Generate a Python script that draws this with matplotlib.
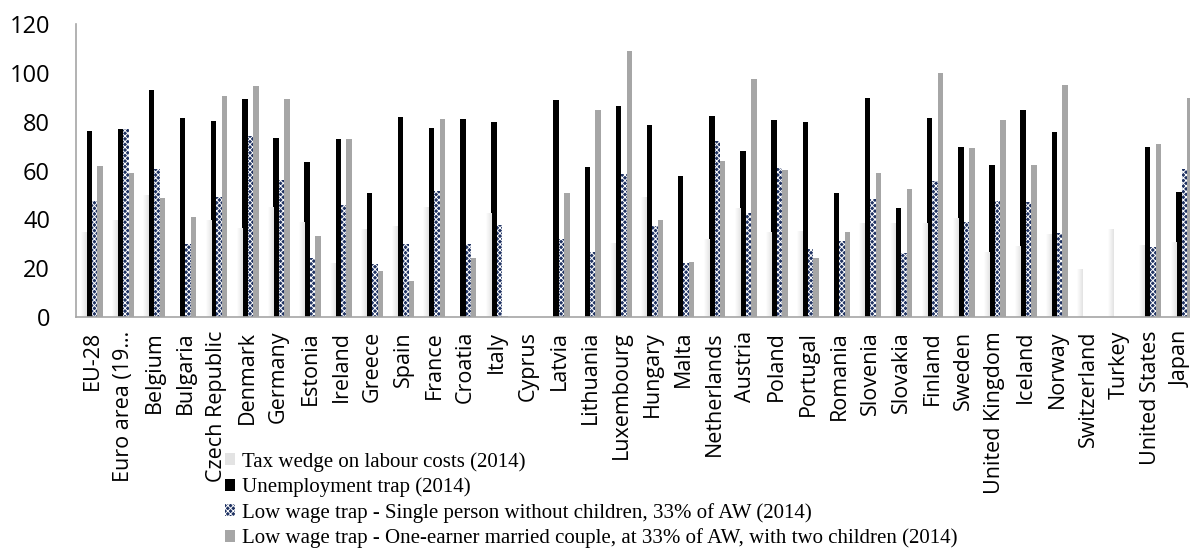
import numpy as np
import matplotlib
matplotlib.use("Agg")
import matplotlib.pyplot as plt
from matplotlib.colors import LinearSegmentedColormap
from matplotlib.patches import Patch

nan = np.nan

countries = ["EU-28", "Euro area (19…", "Belgium", "Bulgaria", "Czech Republic", "Denmark",
             "Germany", "Estonia", "Ireland", "Greece", "Spain", "France", "Croatia", "Italy",
             "Cyprus", "Latvia", "Lithuania", "Luxembourg", "Hungary", "Malta", "Netherlands",
             "Austria", "Poland", "Portugal", "Romania", "Slovenia", "Slovakia", "Finland",
             "Sweden", "United Kingdom", "Iceland", "Norway", "Switzerland", "Turkey",
             "United States", "Japan"]

tax_wedge = [35, 39.6, 50, nan, 39.8, 36.5, 45, 39, 22.2, 35.9, 37.3, 45, nan, 42.6,
             nan, nan, nan, 30.5, 49, nan, 32, 44.7, 35, 35.2, nan, 38.6, 38.6, 38.5,
             40.7, 26.5, 29, 34, 19.7, 36, 29.5, 30.6]
unemployment_trap = [76.3, 77, 93, 81.7, 80.2, 89.2, 73.2, 63.6, 72.8, 50.7, 82, 77.4, 81, 79.7,
                     nan, 89, 61.6, 86.6, 78.8, 57.7, 82.3, 67.9, 80.7, 80, 50.7, 89.6, 44.6, 81.6,
                     69.7, 62.2, 84.8, 75.7, nan, nan, 69.7, 51]
low_wage_single = [47.5, 77, 60.7, 30, 49.3, 74, 56, 24.3, 45.9, 21.7, 30, 51.6, 30, 37.7,
                   nan, 32, 26.8, 58.5, 37.3, 22, 72, 42.6, 61, 27.8, 31, 48.3, 26.1, 55.6,
                   38.8, 47.4, 47.3, 34.2, nan, nan, 28.6, 60.7]
low_wage_couple = [61.9, 59, 48.9, 40.9, 90.5, 94.6, 89.3, 33.2, 72.8, 18.8, 14.8, 81, 24, 0.6,
                   nan, 50.7, 84.8, 108.8, 39.6, 22.4, 63.8, 97.6, 60.2, 24.3, 34.8, 58.9, 52.3, 100,
                   69.3, 80.7, 62.3, 95.1, nan, nan, 70.8, 89.8]

labels = ["Tax wedge on labour costs (2014)",
          "Unemployment trap (2014)",
          "Low wage trap - Single person without children, 33% of AW (2014)",
          "Low wage trap - One-earner married couple, at 33% of AW, with two children (2014)"]

plt.rcParams["hatch.linewidth"] = 0.7

fig = plt.figure(figsize=(11.9, 5.49), dpi=100)
ax = fig.add_axes([76.4 / 1190, 232 / 549, (36 * 31.13) / 1190, 293 / 549])

x = np.arange(len(countries))
w = 0.175

tax_bars = ax.bar(x - 1.5 * w, tax_wedge, w, facecolor="none", edgecolor="none", zorder=2)
ax.bar(x - 0.5 * w, unemployment_trap, w, color="black", zorder=2)
ax.bar(x + 0.5 * w, low_wage_single, w, facecolor="#1f3262", edgecolor="white",
       hatch="xxxxxx", linewidth=0, zorder=2)
ax.bar(x + 1.5 * w, low_wage_couple, w, color="#a6a6a6", zorder=2)

# gradient fill for the tax wedge bars
grad = np.linspace(0, 1, 50).reshape(1, -1)
cmap = LinearSegmentedColormap.from_list("tw", ["#ffffff", "#e2e2e2"])
for bar in tax_bars:
    h = bar.get_height()
    if np.isnan(h):
        continue
    x0 = bar.get_x()
    im = ax.imshow(grad, extent=[x0, x0 + bar.get_width(), 0, h], cmap=cmap,
                   aspect="auto", zorder=2)
    im.set_clip_path(bar)

ax.set_xlim(-0.5, len(countries) - 0.5)
ax.set_ylim(0, 120)
ax.set_yticks(range(0, 121, 20))
ax.set_xticks(x)
ax.set_xticklabels(countries, rotation=90, family="Open Sans", fontsize=15.5)
for t in ax.get_yticklabels():
    t.set_family("Open Sans")
    t.set_fontsize(17)
ax.tick_params(axis="y", length=0, pad=19)
ax.tick_params(axis="x", length=0, pad=10)

for s in ["top", "right"]:
    ax.spines[s].set_visible(False)
for s in ["left", "bottom"]:
    ax.spines[s].set_color("#a6a6a6")
    ax.spines[s].set_linewidth(1.2)

handles = [Patch(facecolor="#e3e3e3", edgecolor="none"),
           Patch(facecolor="black", edgecolor="none"),
           Patch(facecolor="#1f3262", edgecolor="white", hatch="xxxxxx", linewidth=0),
           Patch(facecolor="#a6a6a6", edgecolor="none")]
fig.legend(handles, labels, loc="upper left", bbox_to_anchor=(225 / 1190, 1 - 452 / 549),
           frameon=False, prop={"family": "Liberation Serif", "size": 15},
           handlelength=0.5, handleheight=0.5, handletextpad=0.3,
           labelspacing=0.27, borderpad=0, borderaxespad=0)

fig.savefig("out.png", dpi=100)
